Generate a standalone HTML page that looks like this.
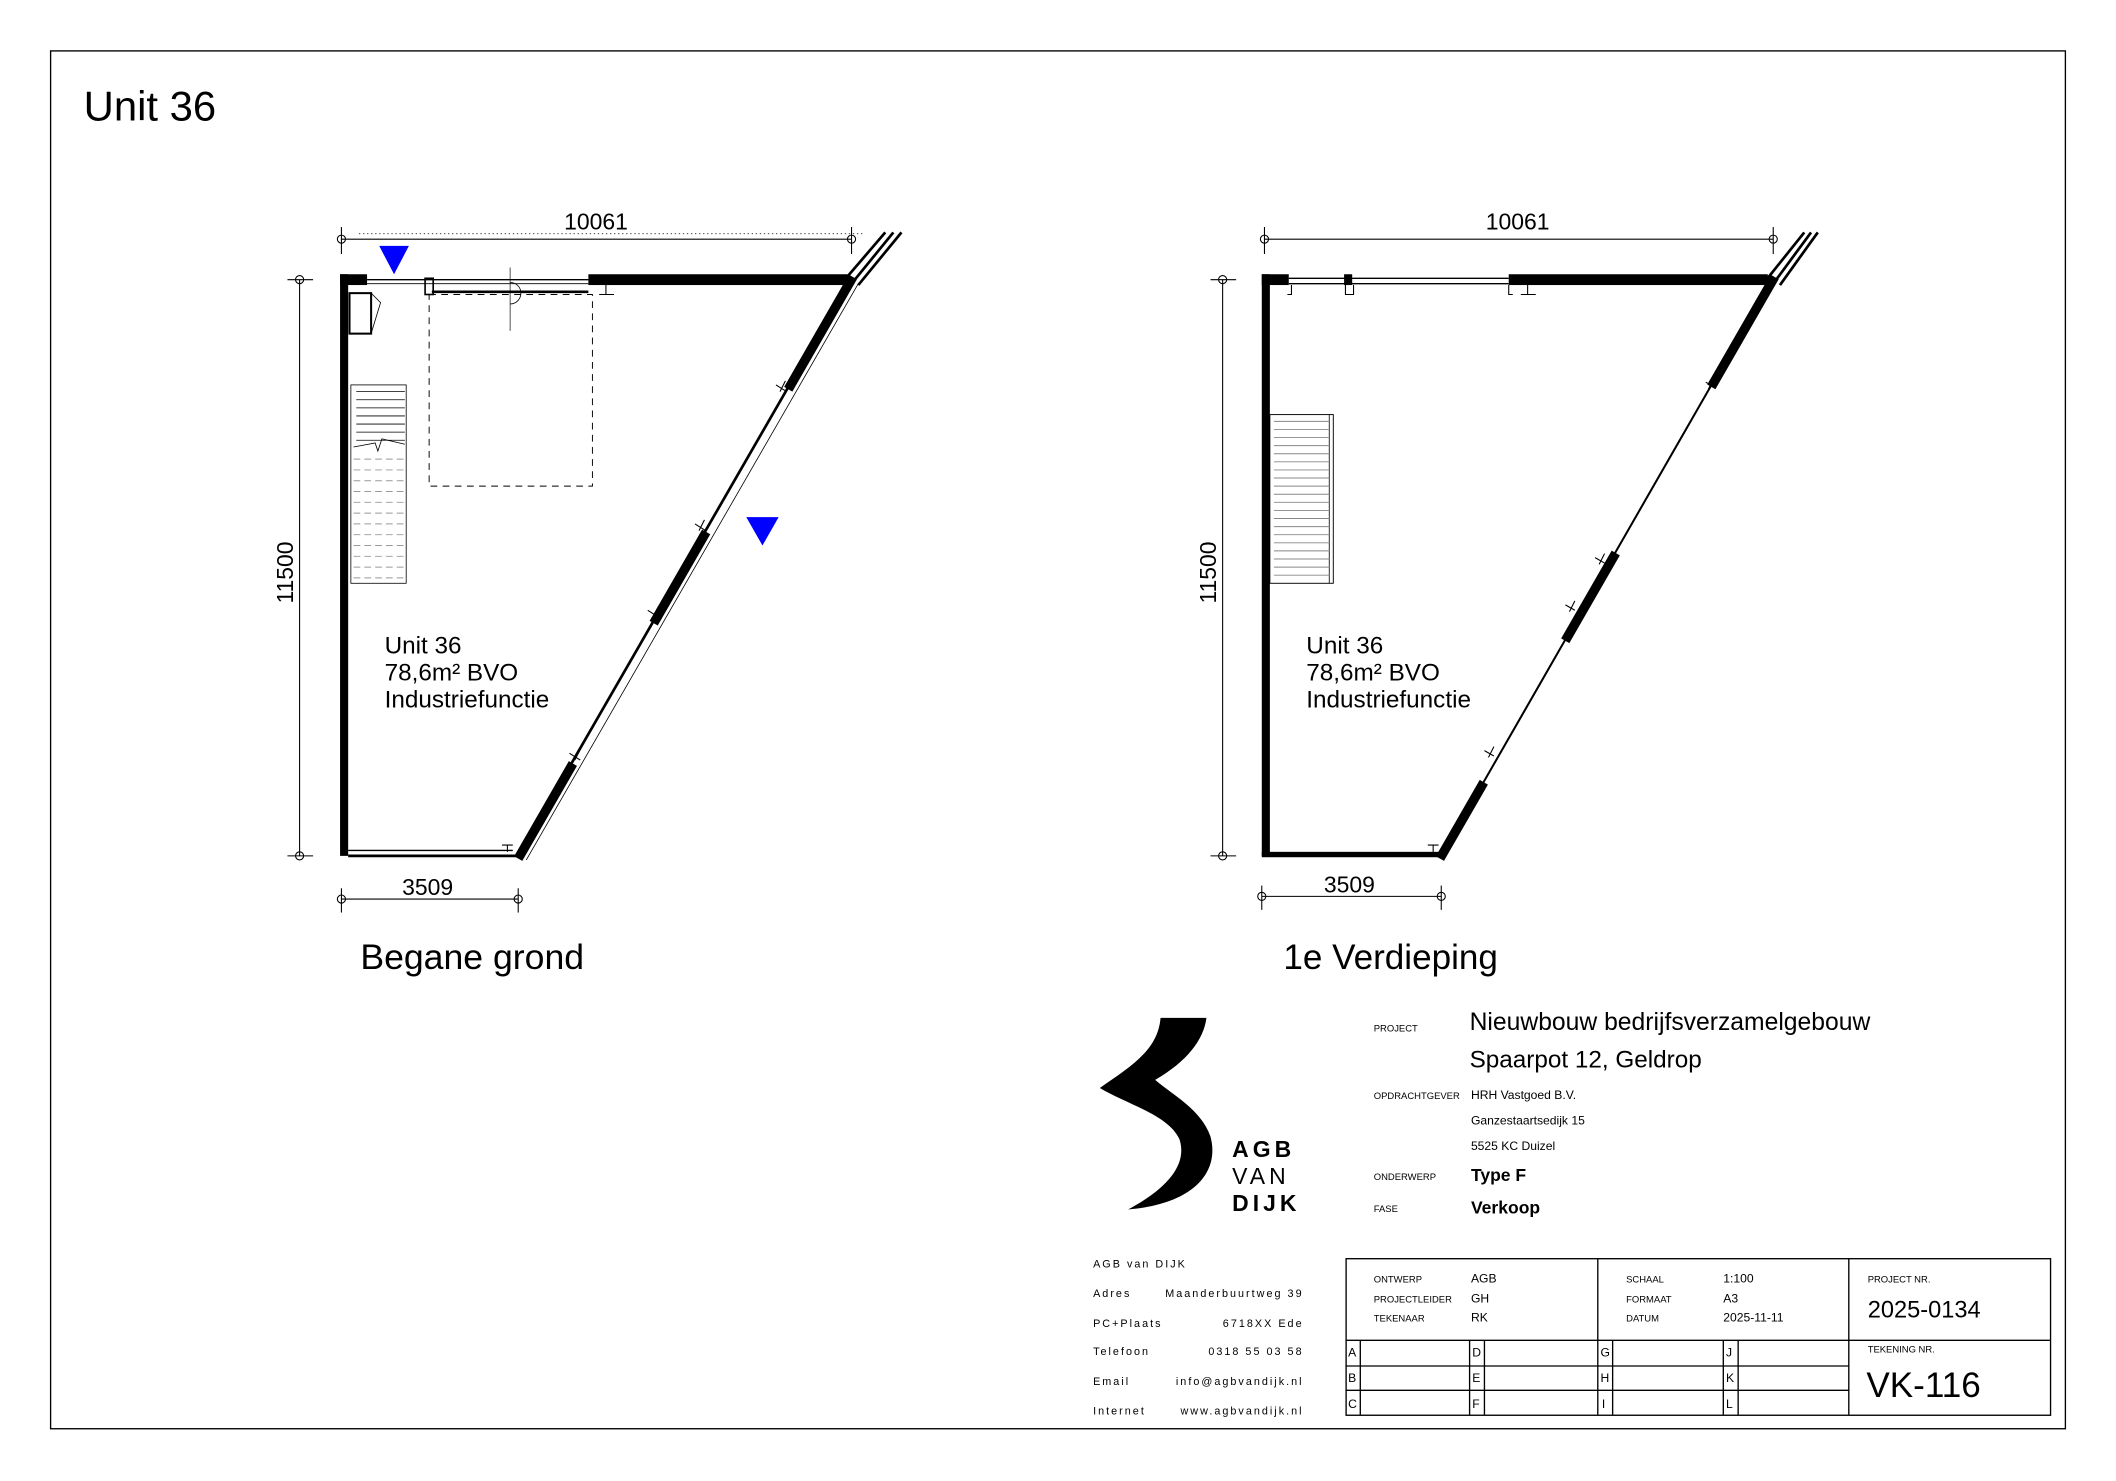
<!DOCTYPE html>
<html><head><meta charset="utf-8"><style>
html,body{margin:0;padding:0;background:#fff;}
svg{display:block;}
text{font-family:"Liberation Sans",sans-serif;fill:#000;}
</style></head><body>
<svg width="2116" height="1481" viewBox="0 0 1568 1097" xmlns="http://www.w3.org/2000/svg">
<rect x="0" y="0" width="1568" height="1097" fill="#fff"/>
<rect x="37.5" y="37.5" width="1493" height="1021" fill="none" stroke="#000" stroke-width="1"/>
<text x="62" y="89" font-size="31">Unit 36</text>

<!-- LEFT PLAN -->
<g stroke="#000" fill="none">
  <line x1="253" y1="177" x2="631" y2="177" stroke-width="0.8"/>
  <line x1="266" y1="173" x2="640" y2="173" stroke-width="0.5" stroke-dasharray="1,2"/>
  <line x1="253" y1="168" x2="253" y2="188" stroke-width="0.8"/>
  <line x1="631" y1="168" x2="631" y2="188" stroke-width="0.8"/>
  <circle cx="253" cy="177" r="3" stroke-width="0.8"/>
  <circle cx="631" cy="177" r="3" stroke-width="0.8"/>
  <line x1="222" y1="207" x2="222" y2="634" stroke-width="0.8"/>
  <line x1="213" y1="207" x2="232" y2="207" stroke-width="0.8"/>
  <line x1="213" y1="634" x2="232" y2="634" stroke-width="0.8"/>
  <circle cx="222" cy="207" r="3" stroke-width="0.8"/>
  <circle cx="222" cy="634" r="3" stroke-width="0.8"/>
  <line x1="253" y1="666" x2="384" y2="666" stroke-width="0.8"/>
  <line x1="253" y1="658" x2="253" y2="676" stroke-width="0.8"/>
  <line x1="384" y1="658" x2="384" y2="676" stroke-width="0.8"/>
  <circle cx="253" cy="666" r="3" stroke-width="0.8"/>
  <circle cx="384" cy="666" r="3" stroke-width="0.8"/>
</g>
<text x="418" y="170" font-size="17">10061</text>
<text x="298" y="663" font-size="17">3509</text>
<text x="217" y="447" font-size="17" transform="rotate(-90 217 447)">11500</text>

<g fill="#000">
  <rect x="252" y="203" width="6" height="431"/>
  <rect x="252" y="203" width="20" height="8"/>
  <rect x="436" y="203" width="192" height="8"/>
</g>
<g stroke="#000" fill="none">
  <line x1="272" y1="207" x2="436" y2="207" stroke-width="1"/>
  <line x1="272" y1="210" x2="436" y2="210" stroke-width="0.6"/>
  <rect x="315" y="206" width="6" height="12" stroke-width="1.2"/>
  <line x1="320" y1="216" x2="436" y2="216" stroke-width="2"/>
  <rect x="318" y="218" width="121" height="142" stroke-width="0.7" stroke-dasharray="5,4"/>
  <line x1="378" y1="198" x2="378" y2="245" stroke-width="0.5"/>
  <path d="M378 209 A8 8 0 0 1 378 225" stroke-width="0.6"/>
  <rect x="259" y="217" width="16" height="30" stroke-width="1.5"/>
  <path d="M275 217 L282 224 L275 247" stroke-width="0.6"/>
  <rect x="260" y="285" width="41" height="147" stroke-width="0.6"/>
  <path d="M264 290 H300 M264 296 H300 M264 302 H300 M264 308 H300 M264 314 H300 M264 320 H300 M264 326 H300" stroke-width="0.6"/>
  <path d="M262 331 L278 328 L280 334 L283 325 L300 329" stroke-width="0.6"/>
  <path d="M262 340 H300 M262 348 H300 M262 356 H300 M262 364 H300 M262 372 H300 M262 380 H300 M262 388 H300 M262 396 H300 M262 404 H300 M262 412 H300 M262 420 H300 M262 428 H300" stroke="#999" stroke-width="0.7" stroke-dasharray="5,3"/>
  <line x1="258" y1="630" x2="380" y2="630" stroke-width="1"/>
  <line x1="258" y1="634" x2="384" y2="634" stroke-width="2"/>
  <path d="M372 626 H380 M376 626 V631" stroke-width="0.8"/>
  <path d="M449 211 V218 M444 218 H455" stroke-width="0.8"/>
  <line x1="630" y1="207" x2="384" y2="634" stroke-width="2"/>
  <line x1="636" y1="210" x2="390" y2="637" stroke-width="0.6"/>
  <line x1="632" y1="205" x2="384" y2="636" stroke-width="7" stroke-dasharray="96,122,78,120,84,200"/>
  <path d="M626 207 L656 172 M631 210 L662 172 M636 211 L668 172" stroke-width="2"/>
  <path d="M575 285 L583 290 M578 290 L582 282" stroke-width="0.8"/>
  <path d="M515 388 L523 393 M518 393 L522 385" stroke-width="0.8"/>
  <path d="M480 452 L488 457 M484 457 L488 449" stroke-width="0.8"/>
  <path d="M422 558 L430 563 M426 563 L430 555" stroke-width="0.8"/>
</g>
<polygon points="281,182 303,182 292,203" fill="#0000ff"/>
<polygon points="553,383 577,383 565,404" fill="#0000ff"/>
<text x="285" y="484" font-size="18">Unit 36</text>
<text x="285" y="504" font-size="18">78,6m² BVO</text>
<text x="285" y="524" font-size="18">Industriefunctie</text>
<text x="267" y="718" font-size="26.4">Begane grond</text>

<!-- RIGHT PLAN -->
<g stroke="#000" fill="none">
  <line x1="937" y1="177" x2="1314" y2="177" stroke-width="0.8"/>
  <line x1="937" y1="168" x2="937" y2="188" stroke-width="0.8"/>
  <line x1="1314" y1="168" x2="1314" y2="188" stroke-width="0.8"/>
  <circle cx="937" cy="177" r="3" stroke-width="0.8"/>
  <circle cx="1314" cy="177" r="3" stroke-width="0.8"/>
  <line x1="906" y1="207" x2="906" y2="634" stroke-width="0.8"/>
  <line x1="897" y1="207" x2="916" y2="207" stroke-width="0.8"/>
  <line x1="897" y1="634" x2="916" y2="634" stroke-width="0.8"/>
  <circle cx="906" cy="207" r="3" stroke-width="0.8"/>
  <circle cx="906" cy="634" r="3" stroke-width="0.8"/>
  <line x1="935" y1="664" x2="1068" y2="664" stroke-width="0.8"/>
  <line x1="935" y1="656" x2="935" y2="674" stroke-width="0.8"/>
  <line x1="1068" y1="656" x2="1068" y2="674" stroke-width="0.8"/>
  <circle cx="935" cy="664" r="3" stroke-width="0.8"/>
  <circle cx="1068" cy="664" r="3" stroke-width="0.8"/>
</g>
<text x="1101" y="170" font-size="17">10061</text>
<text x="981" y="661" font-size="17">3509</text>
<text x="901" y="447" font-size="17" transform="rotate(-90 901 447)">11500</text>
<g fill="#000">
  <rect x="935" y="203" width="6" height="431"/>
  <rect x="935" y="203" width="20" height="8"/>
  <rect x="1118" y="203" width="192" height="8"/>
  <rect x="996" y="203" width="6" height="8"/>
  <rect x="935" y="631" width="133" height="4"/>
</g>
<g stroke="#000" fill="none">
  <line x1="955" y1="206" x2="1118" y2="206" stroke-width="1"/>
  <line x1="955" y1="210" x2="1118" y2="210" stroke-width="1"/>
  <path d="M1132 211 V218 M1127 218 H1138 M1118 211 V218 H1121 M957 211 V218 H954 M997 211 V218 H1003 V211" stroke-width="0.8"/>
  <path d="M1058 626 H1066 M1062 626 V631" stroke-width="0.8"/>
  <rect x="941" y="307" width="47" height="125" stroke-width="0.7"/>
  <line x1="985" y1="307" x2="985" y2="432" stroke-width="0.6"/>
  <path d="M944 312H985 M944 318H985 M944 324H985 M944 330H985 M944 336H985 M944 342H985 M944 348H985 M944 354H985 M944 360H985 M944 366H985 M944 372H985 M944 378H985 M944 384H985 M944 390H985 M944 396H985 M944 402H985 M944 408H985 M944 414H985 M944 420H985 M944 426H985" stroke="#888" stroke-width="0.7"/>
  <line x1="1313" y1="207" x2="1068" y2="634" stroke-width="1.5"/>
  <line x1="1315" y1="205" x2="1067" y2="636" stroke-width="7" stroke-dasharray="94,142,75,121,84,200"/>
  <path d="M1309 207 L1337 172 M1314 210 L1342 172 M1319 211 L1347 172" stroke-width="2"/>
  <path d="M1264 283 L1271 287 M1266 288 L1270 280" stroke-width="0.8"/>
  <path d="M1182 413 L1189 417 M1185 418 L1189 410" stroke-width="0.8"/>
  <path d="M1160 448 L1167 452 M1163 453 L1167 445" stroke-width="0.8"/>
  <path d="M1100 556 L1107 560 M1103 561 L1107 553" stroke-width="0.8"/>
</g>
<text x="968" y="484" font-size="18">Unit 36</text>
<text x="968" y="504" font-size="18">78,6m² BVO</text>
<text x="968" y="524" font-size="18">Industriefunctie</text>
<text x="951" y="718" font-size="26">1e Verdieping</text>

<!-- LOGO -->
<path d="M860 754 L894 754 C892 770 880 786 856 800 C870 812 890 822 897 842 C904 868 885 892 836 896 C866 880 880 862 874 844 C866 826 835 818 815 806 C838 790 858 778 860 754 Z" fill="#000"/>
<g font-size="17" font-weight="bold" letter-spacing="3">
<text x="913" y="857">AGB</text>
<text x="913" y="877" font-weight="normal">VAN</text>
<text x="913" y="897">DIJK</text>
</g>

<g font-size="7">
<text x="1018" y="764">PROJECT</text>
<text x="1018" y="814">OPDRACHTGEVER</text>
<text x="1018" y="874">ONDERWERP</text>
<text x="1018" y="898">FASE</text>
</g>
<text x="1089" y="763" font-size="18.3">Nieuwbouw bedrijfsverzamelgebouw</text>
<text x="1089" y="791" font-size="18">Spaarpot 12, Geldrop</text>
<g font-size="9">
<text x="1090" y="814">HRH Vastgoed B.V.</text>
<text x="1090" y="833">Ganzestaartsedijk 15</text>
<text x="1090" y="852">5525 KC Duizel</text>
</g>
<text x="1090" y="875" font-size="13" font-weight="bold">Type F</text>
<text x="1090" y="899" font-size="13" font-weight="bold">Verkoop</text>

<g font-size="8" letter-spacing="1.5">
<text x="810" y="939">AGB van DIJK</text>
<text x="810" y="961">Adres</text>
<text x="810" y="983">PC+Plaats</text>
<text x="810" y="1004">Telefoon</text>
<text x="810" y="1026">Email</text>
<text x="810" y="1048">Internet</text>
<text x="966" y="961" text-anchor="end">Maanderbuurtweg 39</text>
<text x="966" y="983" text-anchor="end">6718XX Ede</text>
<text x="966" y="1004" text-anchor="end">0318 55 03 58</text>
<text x="966" y="1026" text-anchor="end">info@agbvandijk.nl</text>
<text x="966" y="1048" text-anchor="end">www.agbvandijk.nl</text>
</g>

<g stroke="#000" fill="none" stroke-width="1">
  <rect x="997.5" y="932.5" width="522" height="116"/>
  <line x1="997" y1="993" x2="1519" y2="993"/>
  <line x1="1184" y1="932" x2="1184" y2="1048"/>
  <line x1="1370" y1="932" x2="1370" y2="1048"/>
  <line x1="997" y1="1012" x2="1370" y2="1012"/>
  <line x1="997" y1="1030" x2="1370" y2="1030"/>
  <line x1="1008" y1="993" x2="1008" y2="1048"/>
  <line x1="1089" y1="993" x2="1089" y2="1048"/>
  <line x1="1100" y1="993" x2="1100" y2="1048"/>
  <line x1="1195" y1="993" x2="1195" y2="1048"/>
  <line x1="1277" y1="993" x2="1277" y2="1048"/>
  <line x1="1288" y1="993" x2="1288" y2="1048"/>
</g>
<g font-size="7">
<text x="1018" y="950">ONTWERP</text>
<text x="1018" y="965">PROJECTLEIDER</text>
<text x="1018" y="979">TEKENAAR</text>
<text x="1205" y="950">SCHAAL</text>
<text x="1205" y="965">FORMAAT</text>
<text x="1205" y="979">DATUM</text>
<text x="1384" y="950">PROJECT NR.</text>
<text x="1384" y="1002">TEKENING NR.</text>
</g>
<g font-size="9">
<text x="1090" y="950">AGB</text>
<text x="1090" y="965">GH</text>
<text x="1090" y="979">RK</text>
<text x="1277" y="950">1:100</text>
<text x="1277" y="965">A3</text>
<text x="1277" y="979">2025-11-11</text>
<text x="999" y="1005">A</text><text x="999" y="1024">B</text><text x="999" y="1043">C</text>
<text x="1091" y="1005">D</text><text x="1091" y="1024">E</text><text x="1091" y="1043">F</text>
<text x="1186" y="1005">G</text><text x="1186" y="1024">H</text><text x="1187" y="1043">I</text>
<text x="1279" y="1005">J</text><text x="1279" y="1024">K</text><text x="1279" y="1043">L</text>
</g>
<text x="1384" y="976" font-size="17.5">2025-0134</text>
<text x="1383" y="1035" font-size="26">VK-116</text>
</svg>
</body></html>
